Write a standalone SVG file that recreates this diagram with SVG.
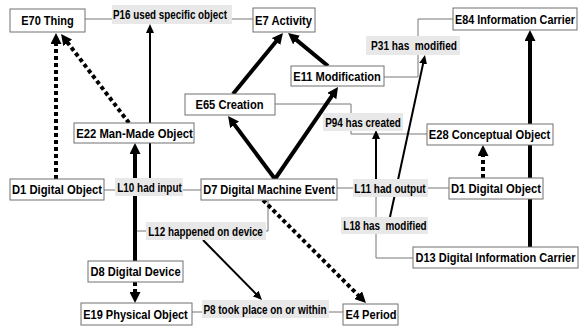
<svg xmlns="http://www.w3.org/2000/svg" width="580" height="328" viewBox="0 0 580 328">
<style>
.bg{fill:#ffffff}
.node{fill:#ffffff;stroke:#707070;stroke-width:1}
.lab{fill:#e8e8e8;stroke:none}
.t{font-family:"Liberation Sans",Arial,sans-serif;font-weight:bold;font-size:13.5px;fill:#000;text-anchor:middle}
.g{fill:none;stroke:#777777;stroke-width:1}
.thick{fill:none;stroke:#000;stroke-width:4;marker-end:url(#ah)}
.dot{fill:none;stroke:#000;stroke-width:4;stroke-dasharray:4 3;marker-end:url(#ah)}
.thin{fill:none;stroke:#000;stroke-width:2;marker-end:url(#as)}
</style>
<defs>
<marker id="ah" markerUnits="userSpaceOnUse" markerWidth="11" markerHeight="11" viewBox="0 0 11 11" refX="3" refY="5.5" orient="auto">
<path d="M0,0 L11,5.5 L0,11 z" fill="#000"/>
</marker>
<marker id="as" markerUnits="userSpaceOnUse" markerWidth="9" markerHeight="8" viewBox="0 0 9 8" refX="2" refY="4" orient="auto">
<path d="M0,0 L9,4 L0,8 z" fill="#000"/>
</marker>
</defs>
<rect class="bg" x="0" y="0" width="580" height="328"/>
<g id="connectors">
<polyline class="g" points="85,19 112,19"/>
<polyline class="g" points="232,19 253,19"/>
<polyline class="g" points="275,104 351,104 351,113"/>
<polyline class="g" points="351,131 351,134 427,134"/>
<polyline class="g" points="384,77 418,77 418,19 453,19"/>
<polyline class="g" points="104,190 115,190"/>
<polyline class="g" points="183,190 201,190"/>
<polyline class="g" points="337,188 353,188"/>
<polyline class="g" points="428,188 449,188"/>
<polyline class="g" points="376,197 376,258 413,258"/>
<polyline class="g" points="268,200 268,231 266,231"/>
<polyline class="g" points="146,231 135,231"/>
<polyline class="g" points="192,312 202,312"/>
<polyline class="g" points="329,312 343,312"/>
<line class="thick" x1="135" y1="261" x2="135" y2="151"/>
<line class="thick" x1="275" y1="179" x2="232.8" y2="122.4"/>
<line class="thick" x1="275" y1="179" x2="333.5" y2="93.6"/>
<line class="thick" x1="233" y1="94" x2="277.9" y2="39.2"/>
<line class="thick" x1="328" y1="66" x2="294.2" y2="38.1"/>
<line class="thick" x1="530" y1="247" x2="530" y2="38"/>
<line class="dot" x1="56" y1="179" x2="56" y2="41"/>
<line class="dot" x1="129" y1="123" x2="65.9" y2="40.4"/>
<line class="dot" x1="483" y1="178" x2="483" y2="153"/>
<line class="dot" x1="135" y1="282" x2="135" y2="295"/>
<line class="dot" x1="263" y1="200" x2="360.3" y2="297.3"/>
<line class="thin" x1="150" y1="178" x2="150" y2="31"/>
<line class="thin" x1="376" y1="179" x2="376" y2="137"/>
<line class="thin" x1="390" y1="217" x2="423.5" y2="61.8"/>
<line class="thin" x1="203" y1="240" x2="257.1" y2="295"/>
</g>
<g id="P16"><rect class="lab" x="112" y="5" width="120" height="19"/><text class="t" transform="translate(170,19) scale(0.85,1)" textLength="134" lengthAdjust="spacingAndGlyphs">P16 used specific object</text></g>
<g id="P31"><rect class="lab" x="366" y="36" width="94" height="19"/><text class="t" transform="translate(414,50) scale(0.85,1)" textLength="101" lengthAdjust="spacingAndGlyphs" xml:space="preserve">P31 has  modified</text></g>
<g id="P94"><rect class="lab" x="323" y="113" width="80" height="18"/><text class="t" transform="translate(363,126.5) scale(0.85,1)" textLength="89" lengthAdjust="spacingAndGlyphs">P94 has created</text></g>
<g id="L10"><rect class="lab" x="115" y="178" width="68" height="18"/><text class="t" transform="translate(149.5,191.5) scale(0.85,1)" textLength="76" lengthAdjust="spacingAndGlyphs">L10 had input</text></g>
<g id="L11"><rect class="lab" x="353" y="179" width="75" height="18"/><text class="t" transform="translate(390,192.5) scale(0.85,1)" textLength="84" lengthAdjust="spacingAndGlyphs">L11 had output</text></g>
<g id="L18"><rect class="lab" x="341" y="217" width="87" height="17"/><text class="t" transform="translate(385,230) scale(0.85,1)" textLength="98" lengthAdjust="spacingAndGlyphs" xml:space="preserve">L18 has  modified</text></g>
<g id="L12"><rect class="lab" x="146" y="222" width="120" height="18"/><text class="t" transform="translate(205.5,235.5) scale(0.85,1)" textLength="135" lengthAdjust="spacingAndGlyphs">L12 happened on device</text></g>
<g id="P8"><rect class="lab" x="202" y="300" width="127" height="18"/><text class="t" transform="translate(265,313.5) scale(0.85,1)" textLength="145" lengthAdjust="spacingAndGlyphs">P8 took place on or within</text></g>
<g id="E70"><rect class="node" x="10" y="9" width="75" height="23"/><text class="t" transform="translate(47.5,25) scale(0.85,1)" textLength="62" lengthAdjust="spacingAndGlyphs">E70 Thing</text></g>
<g id="E7"><rect class="node" x="253" y="8" width="62" height="24"/><text class="t" transform="translate(283.5,24.5) scale(0.85,1)" textLength="67" lengthAdjust="spacingAndGlyphs">E7 Activity</text></g>
<g id="E84"><rect class="node" x="453" y="8" width="124" height="22"/><text class="t" transform="translate(515,23.5) scale(0.8,1)" textLength="150" lengthAdjust="spacingAndGlyphs">E84 Information Carrier</text></g>
<g id="E11"><rect class="node" x="291" y="66" width="93" height="20"/><text class="t" transform="translate(337,80.5) scale(0.85,1)" textLength="103" lengthAdjust="spacingAndGlyphs">E11 Modification</text></g>
<g id="E65"><rect class="node" x="185" y="94" width="90" height="21"/><text class="t" transform="translate(229.5,109) scale(0.85,1)" textLength="80" lengthAdjust="spacingAndGlyphs">E65 Creation</text></g>
<g id="E22"><rect class="node" x="74" y="123" width="120" height="20"/><text class="t" transform="translate(134.5,137.5) scale(0.85,1)" textLength="137" lengthAdjust="spacingAndGlyphs">E22 Man-Made Object</text></g>
<g id="E28"><rect class="node" x="427" y="124" width="126" height="21"/><text class="t" transform="translate(489.5,139) scale(0.85,1)" textLength="143" lengthAdjust="spacingAndGlyphs">E28 Conceptual Object</text></g>
<g id="D1a"><rect class="node" x="10" y="179" width="94" height="21"/><text class="t" transform="translate(57,194) scale(0.85,1)" textLength="106" lengthAdjust="spacingAndGlyphs">D1 Digital Object</text></g>
<g id="D7"><rect class="node" x="201" y="179" width="136" height="21"/><text class="t" transform="translate(269,194) scale(0.85,1)" textLength="155" lengthAdjust="spacingAndGlyphs">D7 Digital Machine Event</text></g>
<g id="D1b"><rect class="node" x="449" y="178" width="94" height="21"/><text class="t" transform="translate(496,193) scale(0.85,1)" textLength="106" lengthAdjust="spacingAndGlyphs">D1 Digital Object</text></g>
<g id="D13"><rect class="node" x="413" y="247" width="165" height="21"/><text class="t" transform="translate(495.5,262) scale(0.8,1)" textLength="200" lengthAdjust="spacingAndGlyphs">D13 Digital Information Carrier</text></g>
<g id="D8"><rect class="node" x="88" y="261" width="95" height="21"/><text class="t" transform="translate(135.5,276) scale(0.85,1)" textLength="106" lengthAdjust="spacingAndGlyphs">D8 Digital Device</text></g>
<g id="E19"><rect class="node" x="81" y="303" width="111" height="22"/><text class="t" transform="translate(135.5,318.5) scale(0.85,1)" textLength="123" lengthAdjust="spacingAndGlyphs">E19 Physical Object</text></g>
<g id="E4"><rect class="node" x="343" y="304" width="55" height="21"/><text class="t" transform="translate(371,319) scale(0.85,1)" textLength="60" lengthAdjust="spacingAndGlyphs">E4 Period</text></g>
</svg>
